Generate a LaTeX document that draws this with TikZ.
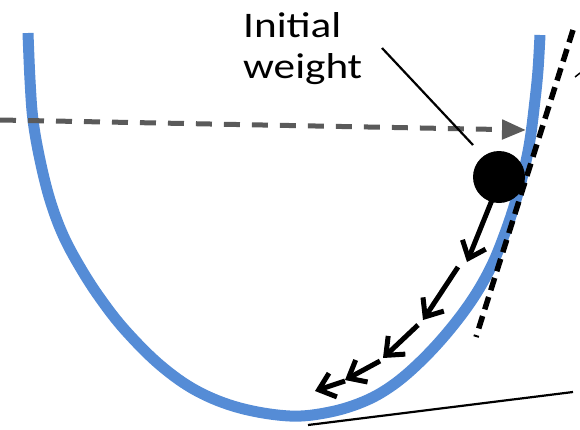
\documentclass[tikz,border=0pt]{standalone}
\usepackage{fontspec}
\setmainfont{Carlito}[FakeStretch=1.2]
\usetikzlibrary{arrows.meta}
\definecolor{bowl}{RGB}{85,140,214}
\definecolor{guide}{RGB}{90,90,90}
\tikzset{
  bowlline/.style={draw=bowl, line width=11pt, line cap=butt},
  stepline/.style={line width=5pt, -{Straight Barb[length=15pt,width=25pt,line width=5pt]}},
  tangentline/.style={line width=5.5pt, dash pattern=on 13pt off 7pt},
  guideline/.style={draw=guide, line width=5pt, dash pattern=on 16pt off 12pt, -{Triangle[length=24pt,width=19pt]}},
  thinline/.style={line width=2.2pt},
}
\begin{document}
\begin{tikzpicture}[x=1pt,y=-1pt]
\useasboundingbox (0,0) rectangle (580,429);
% bowl
\draw[bowlline] plot[smooth, tension=0.6] coordinates {(28,33) (30,80) (33,120) (40,160) (50,200) (63,235) (80,267) (100,298) (125,330) (160,365) (197,391) (240,408) (290,416) (330,412) (365,401) (393,385) (420,362) (447,333) (472,300) (491,267) (505,233) (516,200) (524,170) (530,140) (535,100) (538,70) (540,35)};
% tangent
\coordinate (t1) at (573,30);
\coordinate (t2) at (476,337);
\draw[tangentline] (t1) -- (t2);
\coordinate (s1) at (575,77);
\coordinate (s2) at (580,73);
\draw[line width=1.5pt] (s1) -- (s2);
% dashed guide arrow
\coordinate (g1) at (0,120);
\coordinate (g2) at (526,130);
\draw[guideline] (g1) -- (g2);
% ball
\node[circle, fill=black, minimum size=52pt, inner sep=0pt] (ball) at (499,177) {};
% label
\node[anchor=north west, inner sep=0pt, align=left, font=\fontsize{36pt}{41pt}\selectfont] (lab) at (243,12) {Initial\\weight};
\coordinate (l1) at (382,48);
\coordinate (l2) at (473,145);
\draw[thinline] (l1) -- (l2);
% steps
\coordinate (a0) at (492,200);
\coordinate (a1) at (467,262);
\coordinate (b0) at (458,267);
\coordinate (b1) at (423,320);
\coordinate (c0) at (418,325);
\coordinate (c1) at (383,358);
\coordinate (d0) at (380,361);
\coordinate (d1) at (345,380);
\coordinate (e0) at (345,381);
\coordinate (e1) at (315,391);
\draw[stepline] (a0) -- (a1);
\draw[stepline] (b0) -- (b1);
\draw[stepline] (c0) -- (c1);
\draw[stepline] (d0) -- (d1);
\draw[stepline] (e0) -- (e1);
% bottom tangent
\coordinate (h1) at (308,425);
\coordinate (h2) at (573,392);
\draw[thinline] (h1) -- (h2);
\end{tikzpicture}
\end{document}
